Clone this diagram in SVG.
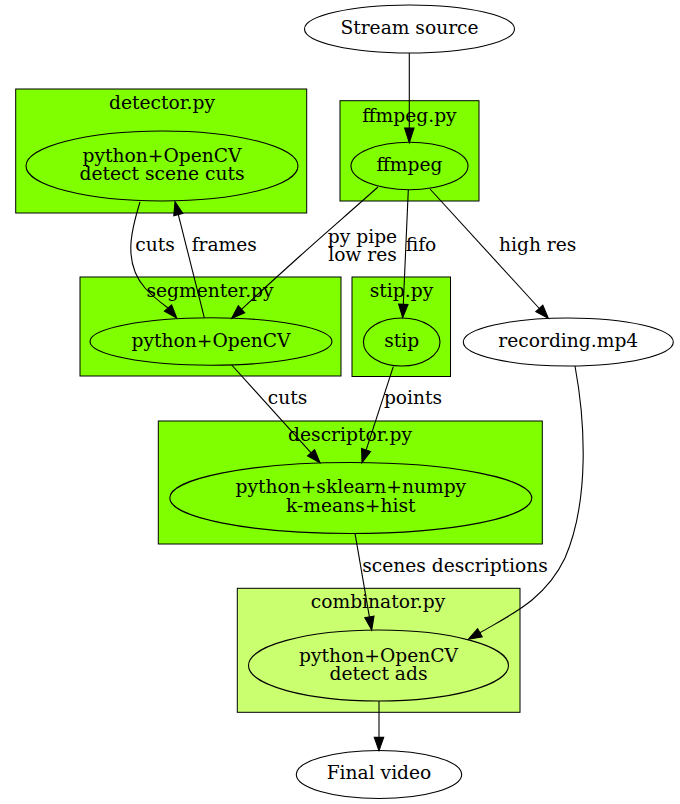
<svg xmlns="http://www.w3.org/2000/svg" width="680" height="804" viewBox="0 0 680 804">
<style>
text{font-family:"DejaVu Serif","Liberation Serif",serif;font-size:18.67px;fill:#000;text-anchor:middle}
.cl{fill:#7fff00;stroke:#000;stroke-width:1}
.cl2{fill:#caff70;stroke:#000;stroke-width:1}
.n{fill:#7fff00;stroke:#000;stroke-width:1.1}
.n2{fill:#caff70;stroke:#000;stroke-width:1.1}
.w{fill:#fff;stroke:#000;stroke-width:1.1}
.e{fill:none;stroke:#000;stroke-width:1.1}
.ah{fill:#000;stroke:#000;stroke-width:1.1}
</style>
<rect width="680" height="804" fill="#fff"/>
<g id="cluster_detector">
<rect class="cl" x="15.7" y="89" width="291" height="124"/>
<text x="162" y="109.3">detector.py</text>
</g>
<g id="cluster_ffmpeg">
<rect class="cl" x="340" y="100.7" width="139" height="100.3"/>
<text x="409.5" y="122">ffmpeg.py</text>
</g>
<g id="cluster_segmenter">
<rect class="cl" x="80" y="277" width="261" height="99"/>
<text x="210" y="296.8">segmenter.py</text>
</g>
<g id="cluster_stip">
<rect class="cl" x="352" y="277" width="98.5" height="99.5"/>
<text x="401.5" y="296.8">stip.py</text>
</g>
<g id="cluster_descriptor">
<rect class="cl" x="158.3" y="421" width="384" height="123"/>
<text x="350" y="441">descriptor.py</text>
</g>
<g id="cluster_combinator">
<rect class="cl2" x="237.3" y="588.3" width="282.7" height="124"/>
<text x="378" y="608.3">combinator.py</text>
</g>
<g id="stream_source">
<ellipse class="w" cx="409.5" cy="29" rx="105" ry="24"/>
<text x="409.5" y="34">Stream source</text>
</g>
<g id="detector">
<ellipse class="n" cx="162" cy="166" rx="136" ry="35"/>
<text x="162" y="161.7">python+OpenCV<tspan x="162" y="180.3">detect scene cuts</tspan></text>
</g>
<g id="ffmpeg">
<ellipse class="n" cx="409.5" cy="166" rx="58.5" ry="23.7"/>
<text x="409.5" y="171.3">ffmpeg</text>
</g>
<g id="segmenter">
<ellipse class="n" cx="211" cy="341.5" rx="121" ry="23.7"/>
<text x="211" y="346.7">python+OpenCV</text>
</g>
<g id="stip">
<ellipse class="n" cx="401.7" cy="342" rx="38.3" ry="24"/>
<text x="401.7" y="346.7">stip</text>
</g>
<g id="recording">
<ellipse class="w" cx="568.3" cy="342" rx="105" ry="24"/>
<text x="568.3" y="346.7">recording.mp4</text>
</g>
<g id="descriptor">
<ellipse class="n" cx="350.8" cy="498" rx="181" ry="35.5"/>
<text x="350.8" y="492.7">python+sklearn+numpy<tspan x="350.8" y="511.7">k-means+hist</tspan></text>
</g>
<g id="combinator">
<ellipse class="n2" cx="378.5" cy="665.5" rx="130" ry="35.5"/>
<text x="378.5" y="661.7">python+OpenCV<tspan x="378.5" y="680.2">detect ads</tspan></text>
</g>
<g id="final_video">
<ellipse class="w" cx="379" cy="774.5" rx="82.7" ry="24"/>
<text x="379" y="779.3">Final video</text>
</g>
<g id="connectors">
<path class="e" d="M409.3,53 L409.3,128"/>
<polygon class="ah" points="409.3,142.7 404.6,128 414,128"/>
<path class="e" d="M140,202 C132,228 122,262 145,288 C152,296 160,302 168,308"/>
<polygon class="ah" points="176.7,318 164.4,311.1 171.6,304.9"/>
<text x="155" y="250.5">cuts</text>
<path class="e" d="M204.3,317.7 L178.3,214.6"/>
<polygon class="ah" points="175,201.7 173.8,215.7 182.8,213.5"/>
<text x="224.3" y="250.5">frames</text>
<path class="e" d="M378,187 C350,212 322,236 300,256 C280,274 258,294 241.5,309.3"/>
<polygon class="ah" points="231.7,318.3 238.3,305.8 244.7,312.8"/>
<text x="362.5" y="242.7">py pipe<tspan x="362.5" y="260.7">low res</tspan></text>
<path class="e" d="M408.3,190 L403.3,304.4"/>
<polygon class="ah" points="402.7,317.7 398.6,304.2 408,304.6"/>
<text x="421" y="250.7">fifo</text>
<path class="e" d="M430,189 L539.3,308.5"/>
<polygon class="ah" points="548.3,318.3 535.8,311.7 542.8,305.3"/>
<text x="537.7" y="250.7">high res</text>
<path class="e" d="M231.7,365 L311.1,452.8"/>
<polygon class="ah" points="320,462.7 307.6,456 314.6,449.6"/>
<text x="287.5" y="404.3">cuts</text>
<path class="e" d="M393.3,366.7 L366.1,450.1"/>
<polygon class="ah" points="362,462.7 361.6,448.6 370.6,451.5"/>
<text x="413" y="404.3">points</text>
<path class="e" d="M355,533.3 L369.4,616.9"/>
<polygon class="ah" points="371.7,630 364.8,617.7 374,616.1"/>
<text x="455" y="572.3">scenes descriptions</text>
<path class="e" d="M575,366 C585,420 590,500 565,558 C545,600 510,615 479.9,632.8"/>
<polygon class="ah" points="468.3,639.3 477.6,628.7 482.2,636.9"/>
<path class="e" d="M379,701 L379,737.4"/>
<polygon class="ah" points="379,750.7 374.3,737.4 383.7,737.4"/>
</g>
</svg>
